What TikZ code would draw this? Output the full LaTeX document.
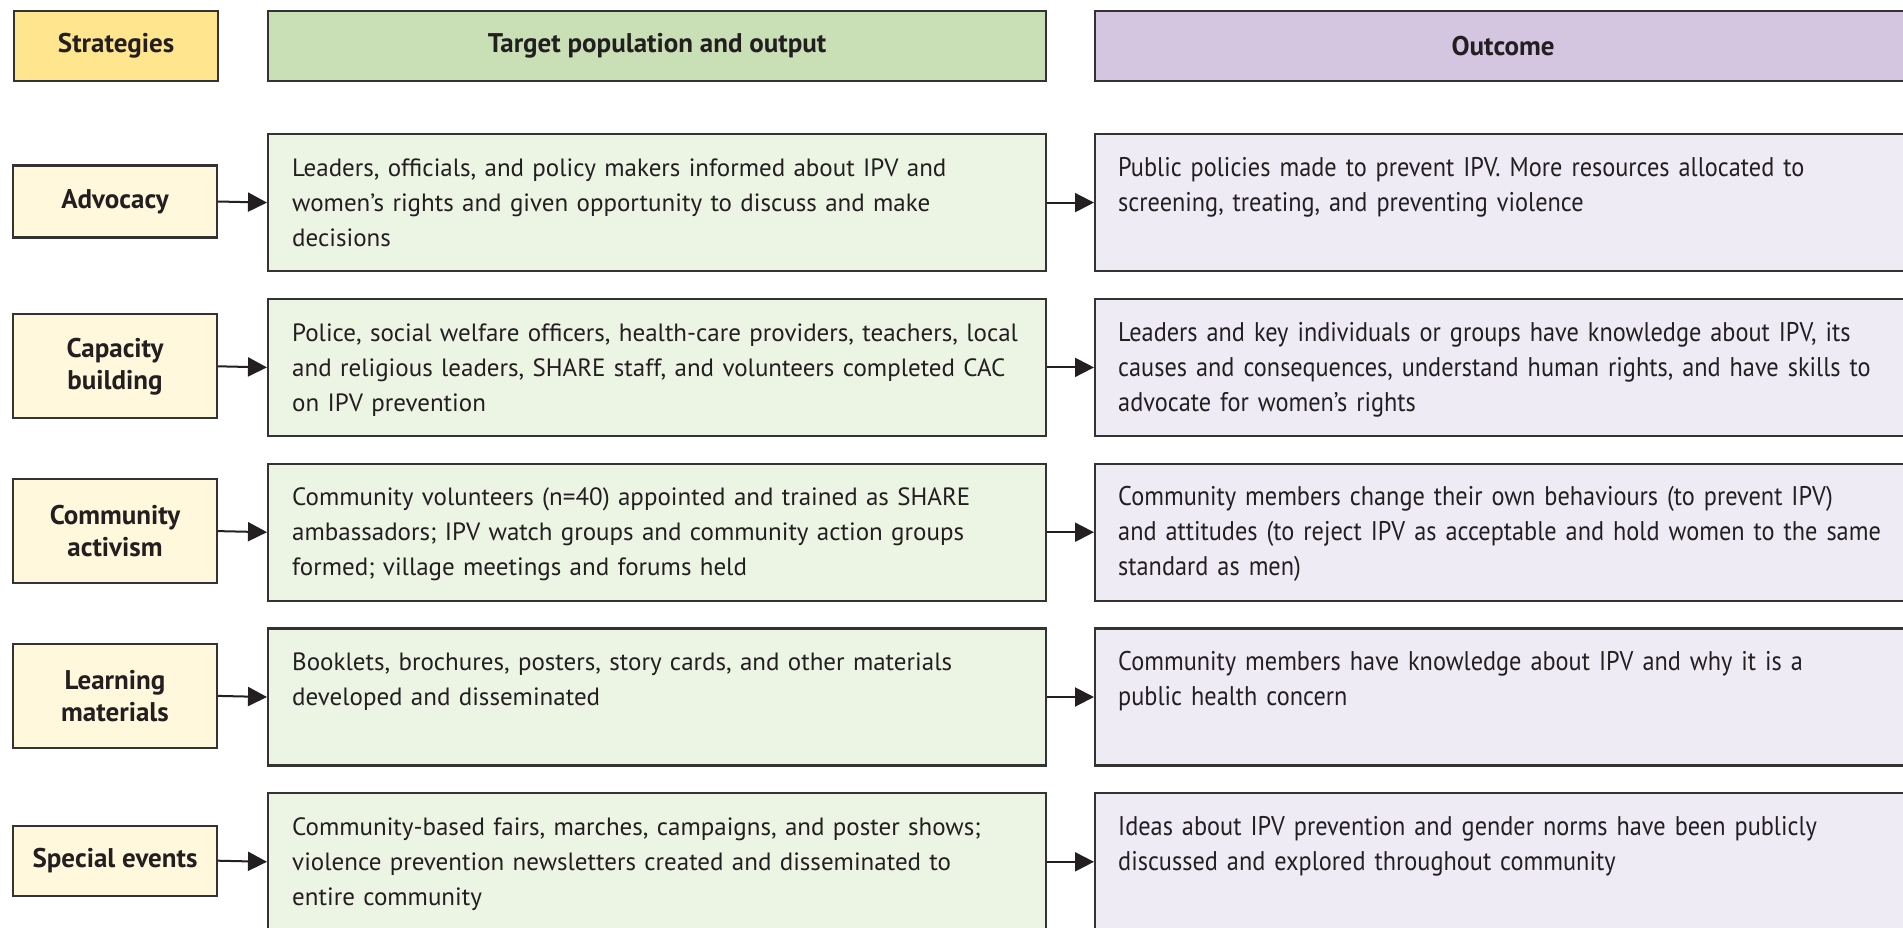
\documentclass[tikz,border=0pt]{standalone}
\usepackage{fontspec}
\setmainfont{PT Sans}
\newfontfamily\condfont[FakeStretch=0.9]{PT Sans}
\usetikzlibrary{arrows.meta}
\definecolor{yhead}{HTML}{FFE68E}
\definecolor{ybox}{HTML}{FFF8DC}
\definecolor{ghead}{HTML}{C9DFB6}
\definecolor{gbox}{HTML}{ECF4E4}
\definecolor{phead}{HTML}{D4C5E1}
\definecolor{pbox}{HTML}{EFEBF5}
\definecolor{edge}{HTML}{333333}
\definecolor{ink}{HTML}{231F20}
\newcommand\fl{\rule{0pt}{20pt}}
\tikzset{
  boxbase/.style={draw=edge, line width=2.2pt, rectangle, inner sep=0pt},
  hdr/.style={boxbase, minimum height=70pt, anchor=north west, font=\fontsize{27}{32}\selectfont\bfseries, text=ink},
  strat/.style={boxbase, fill=ybox, minimum width=204pt, align=center, font=\fontsize{27}{32}\selectfont\bfseries, text=ink},
  gboxs/.style={boxbase, fill=gbox, minimum width=778pt, minimum height=137pt, anchor=north west},
  pboxs/.style={boxbase, fill=pbox, minimum width=820pt, minimum height=137pt, anchor=north west},
  gtext/.style={anchor=north west, inner sep=0pt, text width=800pt, align=left, text=ink, font=\fontsize{25}{35}\selectfont},
  ptext/.style={anchor=north west, inner sep=0pt, text width=800pt, align=left, text=ink, font=\fontsize{27}{35}\condfont},
  arr/.style={draw=ink, line width=2pt, -{Triangle[length=19pt,width=19pt]}}
}
\begin{document}
\begin{tikzpicture}[x=1pt,y=-1pt]
\useasboundingbox (0,0) rectangle (1903,927);
\fill[white] (0,0) rectangle (1903,927);
% headers
\node[hdr, fill=yhead, minimum width=204pt] (hs) at (13,10) {Strategies};
\node[hdr, fill=ghead, minimum width=778pt] (hg) at (267,10) {Target population and output};
\node[hdr, fill=phead, minimum width=816pt] (hp) at (1094,10) {Outcome};
% rows
\foreach \i/\sname/\sh/\gtxt/\ptxt in {
 0/{Advocacy}/72/{Leaders, officials, and policy makers informed about IPV and\\women’s rights and given opportunity to discuss and make\\decisions}/{Public policies made to prevent IPV. More resources allocated to\\screening, treating, and preventing violence},
 1/{Capacity\\building}/104/{Police, social welfare officers, health-care providers, teachers, local\\and religious leaders, SHARE staff, and volunteers completed CAC\\on IPV prevention}/{Leaders and key individuals or groups have knowledge about IPV, its\\causes and consequences, understand human rights, and have skills to\\advocate for women’s rights},
 2/{Community\\activism}/104/{Community volunteers (n=40) appointed and trained as SHARE\\ambassadors; IPV watch groups and community action groups\\formed; village meetings and forums held}/{Community members change their own behaviours (to prevent IPV)\\and attitudes (to reject IPV as acceptable and hold women to the same\\standard as men)},
 3/{Learning\\materials}/104/{Booklets, brochures, posters, story cards, and other materials\\developed and disseminated}/{Community members have knowledge about IPV and why it is a\\public health concern},
 4/{Special events}/70/{Community-based fairs, marches, campaigns, and poster shows;\\violence prevention newsletters created and disseminated to\\entire community}/{Ideas about IPV prevention and gender norms have been publicly\\discussed and explored throughout community}
}{
  \pgfmathsetmacro\T{133+164.8*\i}
  \node[strat, minimum height=\sh pt] (s\i) at (115,\T+68.5) {\sname};
  \node[gboxs] (g\i) at (267,\T) {};
  \node[pboxs] (p\i) at (1094,\T) {};
  \node[gtext] (gt\i) at (292,\T+23) {\fl\gtxt};
  \node[ptext] (pt\i) at (1118,\T+23) {\fl\ptxt};
  \draw[arr] (s\i.east) -- (g\i.west);
  \draw[arr] (g\i.east) -- (p\i.west);
}
\end{tikzpicture}
\end{document}
